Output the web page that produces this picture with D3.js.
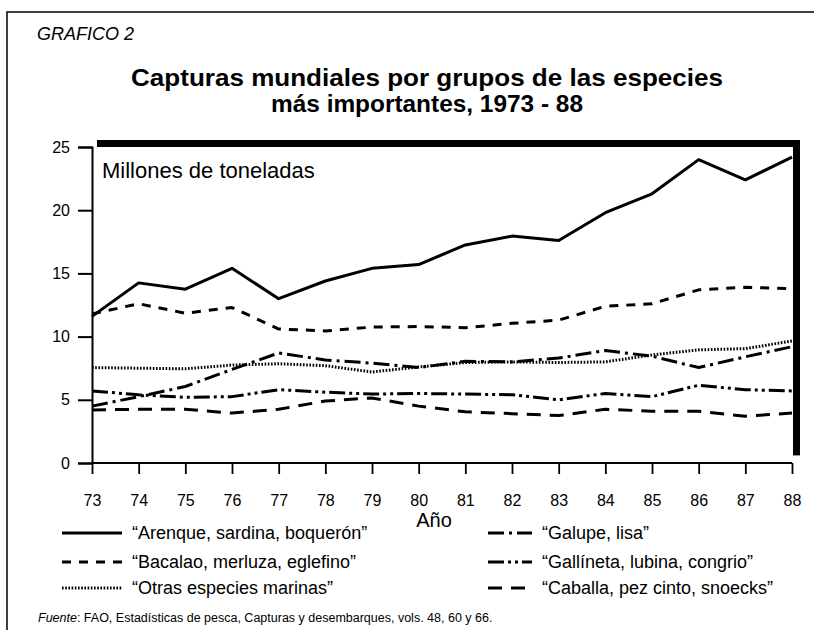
<!DOCTYPE html>
<html><head><meta charset="utf-8">
<script src="https://cdn.jsdelivr.net/npm/d3@7"></script>
<style>body{margin:0;background:#fff}svg{display:block;font-family:"Liberation Sans",Arial,sans-serif}</style>
</head><body><svg id="c" width="814" height="630"></svg>
<script>
const years = [73,74,75,76,77,78,79,80,81,82,83,84,85,86,87,88];
const yTicks = [0,5,10,15,20,25];
const seriesNames = ["\u201cArenque, sardina, boquer\u00f3n\u201d","\u201cBacalao, merluza, eglefino\u201d","\u201cOtras especies marinas\u201d","\u201cGalupe, lisa\u201d","\u201cGall\u00edneta, lubina, congrio\u201d","\u201cCaballa, pez cinto, snoecks\u201d"];
const arenque   = [11.6,14.25,13.75,15.4,13.0,14.4,15.4,15.7,17.25,17.95,17.6,19.8,21.3,24.0,22.4,24.2];
const bacalao   = [11.8,12.6,11.85,12.3,10.6,10.45,10.75,10.8,10.7,11.05,11.3,12.4,12.6,13.7,13.9,13.8];
const otras     = [7.55,7.5,7.45,7.75,7.85,7.7,7.2,7.6,7.95,8.0,7.95,8.0,8.55,8.95,9.05,9.65];
const galupe    = [4.5,5.25,6.05,7.4,8.7,8.15,7.9,7.55,8.05,8.0,8.3,8.9,8.45,7.55,8.4,9.2];
const gallineta = [5.7,5.4,5.2,5.25,5.8,5.6,5.45,5.5,5.45,5.4,5.0,5.5,5.25,6.15,5.8,5.7];
const caballa   = [4.2,4.25,4.25,3.95,4.25,4.9,5.15,4.5,4.05,3.9,3.75,4.25,4.1,4.1,3.7,3.95];

const svg = d3.select("#c");
const x = d3.scaleLinear().domain([73,88]).range([92,792]);
const y = d3.scaleLinear().domain([0,25]).range([463,147]);

// outer frame
svg.append("path").attr("d","M7,640 L7,12 L820,12").attr("fill","none").attr("stroke","#000").attr("stroke-width",1.5);

svg.append("text").attr("x",37).attr("y",40).attr("font-size",18).attr("font-style","italic").text("GRAFICO 2");
const title = svg.append("text").attr("text-anchor","middle").attr("font-size",24).attr("font-weight","bold");
title.append("tspan").attr("x",427).attr("y",86).attr("textLength",592).attr("lengthAdjust","spacingAndGlyphs").text("Capturas mundiales por grupos de las especies");
title.append("tspan").attr("x",427).attr("y",112).attr("textLength",312).attr("lengthAdjust","spacingAndGlyphs").text("m\u00e1s importantes, 1973 - 88");

// thick shadow frame
svg.append("rect").attr("x",x(73)+5).attr("y",y(25)-7).attr("width",x(88)+8-(x(73)+5)).attr("height",7).attr("fill","#000");
svg.append("rect").attr("x",x(88)+1).attr("y",y(25)-7).attr("width",7).attr("height",y(0.6)-(y(25)-7)).attr("fill","#000");

// axes
const yAxis = d3.axisLeft(y).tickValues(yTicks).tickSize(14).tickPadding(8);
const gy = svg.append("g").attr("transform",`translate(${x(73)},0)`).call(yAxis);
gy.select(".domain").attr("stroke-width",2);
gy.selectAll(".tick line").attr("stroke-width",2);
gy.selectAll("text").attr("font-size",16).attr("font-family","Liberation Sans, Arial, sans-serif");

const xAxis = d3.axisBottom(x).tickValues(years).tickFormat(d3.format("d")).tickSize(11).tickPadding(21);
const gx = svg.append("g").attr("transform",`translate(0,${y(0)})`).call(xAxis);
gx.select(".domain").attr("stroke-width",2).attr("d",`M${x(73)},0H${x(88)}`);
gx.selectAll(".tick line").attr("stroke-width",1.8);
gx.selectAll("text").attr("font-size",16).attr("font-family","Liberation Sans, Arial, sans-serif");

svg.append("text").attr("x",102).attr("y",178).attr("font-size",22).text("Millones de toneladas");
svg.append("text").attr("x",434).attr("y",527).attr("text-anchor","middle").attr("font-size",20).text("A\u00f1o");

const styles = [
  {dash:null, w:3},
  {dash:"9,8", w:3},
  {dash:"1.6,1.6", w:3},
  {dash:"16,5,3,5", w:3},
  {dash:"16,4,3,4,3,4", w:3},
  {dash:"14,9", w:3}
];
const data = [arenque,bacalao,otras,galupe,gallineta,caballa];
const line = d3.line().x((d,i)=>x(years[i])).y(d=>y(d));
data.forEach((s,k)=>{
  svg.append("path").attr("d",line(s)).attr("fill","none").attr("stroke","#000")
    .attr("stroke-width",styles[k].w).attr("stroke-dasharray",styles[k].dash).attr("stroke-linejoin","round");
});

// legend
const legendRows = [539,568,594];
seriesNames.forEach((n,k)=>{
  const col = Math.floor(k/3), row = k%3;
  const lx1 = col===0 ? 62 : 488, lx2 = col===0 ? 122 : 532, tx = col===0 ? 132 : 542;
  const ly = legendRows[row];
  svg.append("line").attr("x1",lx1).attr("x2",lx2).attr("y1",ly-6).attr("y2",ly-6)
    .attr("stroke","#000").attr("stroke-width",styles[k].w).attr("stroke-dasharray",styles[k].dash);
  svg.append("text").attr("x",tx).attr("y",ly).attr("font-size",18).text(n);
});

const f = svg.append("text").attr("x",38).attr("y",622).attr("font-size",12.5);
f.append("tspan").attr("font-style","italic").text("Fuente");
f.append("tspan").text(": FAO, Estad\u00edsticas de pesca, Capturas y desembarques, vols. 48, 60 y 66.");
</script></body></html>
